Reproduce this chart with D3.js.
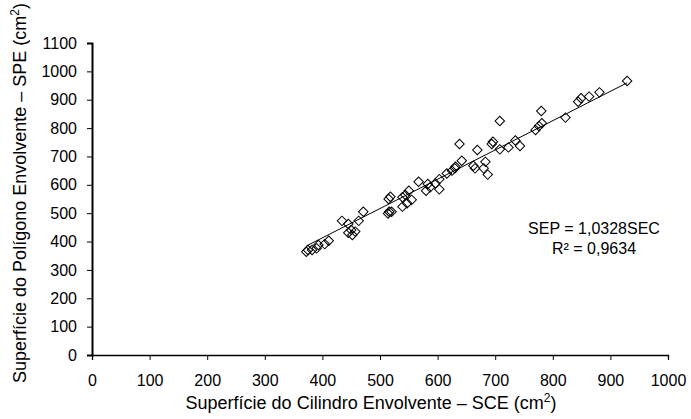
<!DOCTYPE html>
<html>
<head>
<meta charset="utf-8">
<script src="https://cdn.jsdelivr.net/npm/d3@7"></script>
<style>
  body { margin: 0; background: #fff; }
  text { font-family: "Liberation Sans", Arial, sans-serif; fill: #000; }
</style>
</head>
<body>
<svg id="chart" width="691" height="419"></svg>
<script>
// SCE vs SPE scatter with linear trend through origin

const sce = [372, 375, 382, 390, 393, 404, 411, 434, 445, 445, 450, 452, 457, 463, 471,
  514, 516, 518, 520, 515, 539, 539, 544, 547, 550, 555, 567, 580, 583, 587, 596, 603, 603,
  616, 625, 630, 631, 638, 642, 662, 665, 669, 680, 683, 687,
  694, 696, 708, 708, 723, 735, 743, 770, 776, 780, 781, 822, 844, 849, 863, 881, 929];

const spe = [364, 370, 370, 376, 388, 391, 403, 473, 462, 431, 441, 423, 435, 473, 505,
  499, 505, 558, 505, 550, 523, 556, 564, 535, 579, 547, 611, 579, 603, 591, 605, 584, 620,
  640, 650, 658, 664, 744, 685, 667, 658, 723, 658, 681, 636,
  744, 752, 725, 825, 732, 756, 737, 793, 807, 860, 817, 837, 893, 905, 911, 926, 966];

const slope = 1.0328;
const xTicks = d3.range(0, 1001, 100);
const yTicks = d3.range(0, 1101, 100);
const eqLabels = ['SEP = 1,0328SEC', 'R² = 0,9634'];

const svg = d3.select('#chart');

const x = d3.scaleLinear().domain([0, 1000]).range([92, 668]);
const y = d3.scaleLinear().domain([0, 1100]).range([355, 43]);

// axes
svg.append('g')
    .attr('transform', `translate(0,${y(0)})`)
    .call(d3.axisBottom(x).tickValues(xTicks).tickFormat(d3.format('d'))
      .tickSizeOuter(0).tickSize(5).tickPadding(15))
    .call(g => g.select('.domain').attr('stroke-width', 1.3))
    .call(g => g.selectAll('text').attr('font-size', 16));

svg.append('g')
    .attr('transform', `translate(${x(0)},0)`)
    .call(d3.axisLeft(y).tickValues(yTicks).tickFormat(d3.format('d'))
      .tickSizeOuter(0).tickSize(5).tickPadding(10))
    .call(g => g.select('.domain').attr('stroke-width', 2))
    .call(g => g.selectAll('text').attr('font-size', 16));

svg.selectAll('.tick line').attr('stroke', '#000');
svg.selectAll('.domain').attr('stroke', '#000');

// trend line
const xMin = d3.min(sce), xMax = d3.max(sce);
svg.append('line')
    .attr('x1', x(xMin)).attr('y1', y(slope * xMin))
    .attr('x2', x(xMax)).attr('y2', y(slope * xMax))
    .attr('stroke', '#000')
    .attr('stroke-width', 1);

// points (diamonds)
const diamond = d3.symbol().type(d3.symbolSquare).size(45);
svg.append('g')
  .selectAll('path')
  .data(sce.map((d, i) => [d, spe[i]]))
  .join('path')
    .attr('d', diamond)
    .attr('transform', d => `translate(${x(d[0])},${y(d[1])}) rotate(45)`)
    .attr('fill', 'none')
    .attr('stroke', '#000')
    .attr('stroke-width', 1);

// equation
svg.append('g')
  .selectAll('text')
  .data(eqLabels)
  .join('text')
    .attr('x', 594)
    .attr('y', (d, i) => 234 + i * 20)
    .attr('text-anchor', 'middle')
    .attr('font-size', 16)
    .text(d => d);

// axis titles
const xt = svg.append('text')
    .attr('x', 371)
    .attr('y', 409)
    .attr('text-anchor', 'middle')
    .attr('font-size', 18)
    .text('Superfície do Cilindro Envolvente – SCE (cm');
xt.append('tspan').attr('baseline-shift', 'super').attr('font-size', 12).text('2');
xt.append('tspan').text(')');

const yt = svg.append('text')
    .attr('transform', 'translate(26,193) rotate(-90)')
    .attr('text-anchor', 'middle')
    .attr('font-size', 18)
    .text('Superfície do Polígono Envolvente – SPE (cm');
yt.append('tspan').attr('baseline-shift', 'super').attr('font-size', 12).text('2');
yt.append('tspan').text(')');
</script>
</body>
</html>
